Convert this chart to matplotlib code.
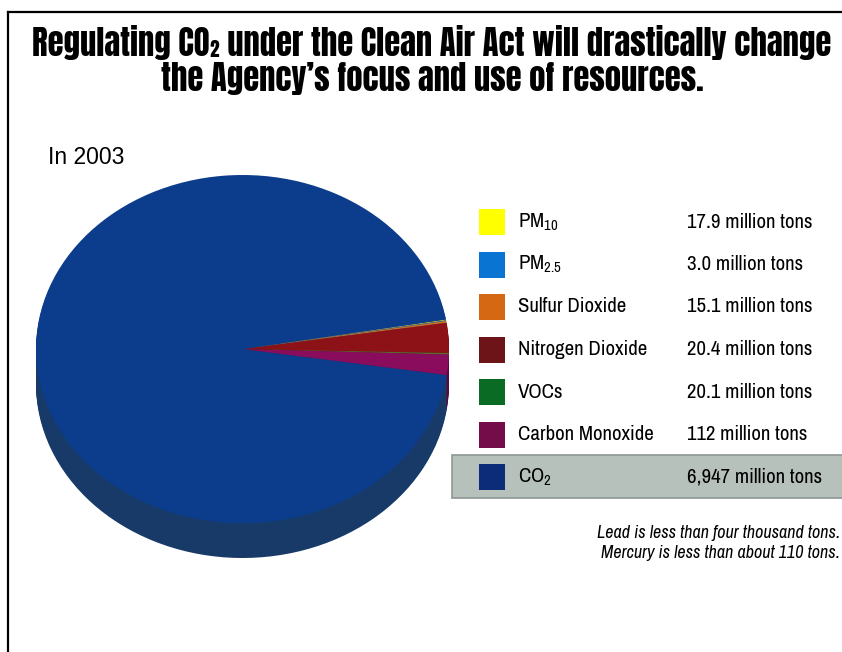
import matplotlib

matplotlib.use("Agg")
import matplotlib.pyplot as plt
from matplotlib.lines import Line2D
from matplotlib.patches import Rectangle

W, H = 842, 652

# legend rows (top to bottom)
pollutants = ["PM$_{10}$", "PM$_{2.5}$", "Sulfur Dioxide", "Nitrogen Dioxide",
              "VOCs", "Carbon Monoxide", "CO$_2$"]
amounts = ["17.9 million tons", "3.0 million tons", "15.1 million tons",
           "20.4 million tons", "20.1 million tons", "112 million tons",
           "6,947 million tons"]
legend_colors = ["#ffff00", "#0a74d2", "#d56812", "#6c1418", "#0a6c24",
                 "#740c4a", "#0c2c7a"]

# pie slices as drawn in the picture (degrees, clockwise order)
slice_deg = [0.3, 0.2, 0.6, 10.0, 0.5, 6.8, 341.6]
top_colors = ["#d8d020", "#2a70c0", "#c8702a", "#8c1218", "#5c6a30",
              "#8a0c5c", "#0c3d8c"]
side_colors = ["#8a8418", "#1c4a80", "#80461c", "#5c0c10", "#3a4620",
               "#5a0a3c", "#173a68"]

title = ("Regulating CO\u2082 under the Clean Air Act will drastically change\n"
         "the Agency\u2019s focus and use of resources.")
subtitle = "In 2003"
notes = ["Lead is less than four thousand tons.",
         "Mercury is less than about 110 tons."]

HEAVY = ["Anton", "DejaVu Sans"]
NARROW = ["Archivo Narrow", "DejaVu Sans"]
SANS = ["Liberation Sans", "DejaVu Sans"]

plt.rcParams.update({
    "mathtext.fontset": "custom",
    "mathtext.rm": "Archivo Narrow",
    "mathtext.it": "Archivo Narrow:italic",
    "mathtext.bf": "Archivo Narrow:bold",
})


def fx(x):
    return x / W


def fy(y):
    return 1 - y / H


fig = plt.figure(figsize=(W / 100, H / 100), dpi=100)
fig.patch.set_facecolor("white")

# frame lines of the slide
fig.add_artist(Line2D([fx(8), fx(842)], [fy(12), fy(12)], color="black", lw=1.6))
fig.add_artist(Line2D([fx(8), fx(8)], [fy(12), fy(652)], color="black", lw=1.6))

fig.text(fx(432), fy(60), title, ha="center", va="center", fontsize=23.5,
         family=HEAVY, linespacing=1.1)
fig.text(fx(48), fy(158), subtitle, ha="left", va="center", fontsize=16.5, family=SANS)

# 3-D looking pie: stacked darker layers, then the top face
depth = 0.2
pie_ax = fig.add_axes([fx(36), fy(558), fx(449) - fx(36), (558 - 175) / H])
layers = 24
for i in range(layers):
    cy = -depth + depth * i / layers
    pie_ax.pie(slice_deg, colors=side_colors, startangle=9.8, counterclock=False,
               center=(0, cy), wedgeprops={"linewidth": 0, "clip_on": False})
pie_ax.pie(slice_deg, colors=top_colors, startangle=9.8, counterclock=False,
           center=(0, 0), wedgeprops={"linewidth": 0, "clip_on": False})
pie_ax.set_aspect("auto")
pie_ax.set_xlim(-1, 1)
pie_ax.set_ylim(-1 - depth, 1)
pie_ax.axis("off")

# legend drawn in a pixel-coordinate overlay
leg = fig.add_axes([0, 0, 1, 1])
leg.set_xlim(0, W)
leg.set_ylim(H, 0)
leg.axis("off")

row0, step = 222, 42.5
leg.add_patch(Rectangle((452, 455), 400, 43, facecolor="#b7c1bc",
                        edgecolor="#8e9893", lw=1.2, clip_on=False))
for i, (name, amt, col) in enumerate(zip(pollutants, amounts, legend_colors)):
    y = row0 + i * step
    leg.add_patch(Rectangle((479, y - 13), 26, 26, facecolor=col, edgecolor="none"))
    leg.text(518, y, name, ha="left", va="center", fontsize=15, family=NARROW)
    leg.text(687, y, amt, ha="left", va="center", fontsize=15, family=NARROW)

for j, line in enumerate(notes):
    leg.text(840, 533 + j * 20, line, ha="right", va="center", fontsize=13,
             style="italic", family=NARROW)

fig.savefig("out.png", dpi=100)
